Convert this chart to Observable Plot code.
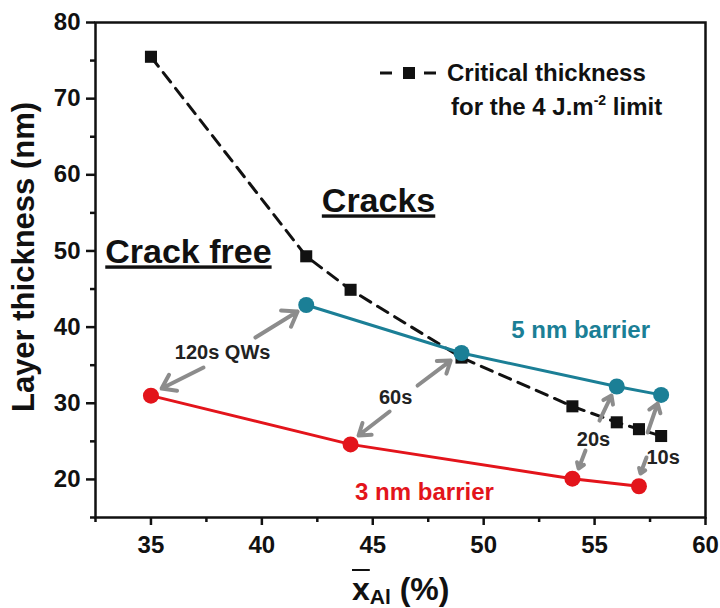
<!DOCTYPE html>
<html><head><meta charset="utf-8">
<script src="https://cdn.jsdelivr.net/npm/d3@7"></script>
<script src="https://cdn.jsdelivr.net/npm/@observablehq/plot@0.6"></script>
<style>
body{margin:0;background:#fff;font-family:"Liberation Sans",Arial,sans-serif;}
#wrap{position:relative;width:720px;height:608px;overflow:hidden;}
#legend{position:absolute;left:378px;top:56px;font-weight:bold;font-size:24px;line-height:34px;color:#111;}
#legend .row{white-space:nowrap;}
#legend sup{font-size:14px;line-height:0;vertical-align:10px;}
#xlabel{position:absolute;left:352px;top:573px;font-weight:bold;font-size:32px;line-height:32px;color:#111;white-space:nowrap;}
#xlabel .ov{text-decoration:overline;text-decoration-thickness:2px;}
#xlabel sub{font-size:21px;line-height:0;vertical-align:-4px;}
</style></head><body><div id="wrap"></div>
<script>
// Critical thickness (4 J.m-2 limit)
const critX = [35, 42, 44, 49, 54, 56, 57, 58];
const critY = [75.5, 49.3, 44.9, 36.0, 29.6, 27.5, 26.6, 25.7];
// 5 nm barrier
const b5X = [42, 49, 56, 58];
const b5Y = [42.9, 36.6, 32.2, 31.1];
// 3 nm barrier
const b3X = [35, 44, 54, 57];
const b3Y = [31.0, 24.6, 20.1, 19.1];
// axis ticks
const xTicks = [35, 40, 45, 50, 55, 60];
const xMinor = [32.5, 37.5, 42.5, 47.5, 52.5, 57.5];
const yTicks = [20, 30, 40, 50, 60, 70, 80];
const yMinor = [15, 25, 35, 45, 55, 65, 75];
// annotation labels
const regionText = ["Crack free", "Cracks"];
const regionX = [36.69, 45.26];
const regionY = [49.8, 56.5];
const timeText = ["120s QWs", "60s", "20s", "10s"];
const timeX = [38.23, 46.03, 54.95, 58.09];
const timeY = [36.72, 30.81, 25.29, 22.93];
// arrows (from label to point)
const arrX1 = [39.71, 37.37, 47.02, 45.76, 55.22, 54.59, 57.39, 57.34];
const arrY1 = [38.63, 34.69, 32.33, 28.92, 27.73, 23.79, 26.16, 22.88];
const arrX2 = [41.61, 35.48, 48.51, 44.36, 55.76, 54.28, 57.84, 57.07];
const arrY2 = [42.05, 31.94, 35.61, 25.77, 31.02, 21.43, 29.97, 20.77];
const seriesText = ["5 nm barrier", "3 nm barrier"];
const seriesX = [54.37, 47.33];
const seriesY = [39.55, 18.28];

const TEAL = "#1b7f96", RED = "#e3141b", GRAY = "#8c8c8c";
const crit = critX.map((x, i) => ({x, y: critY[i]}));
const b5 = b5X.map((x, i) => ({x, y: b5Y[i]}));
const b3 = b3X.map((x, i) => ({x, y: b3Y[i]}));
const regions = regionText.map((t, i) => ({t, x: regionX[i], y: regionY[i]}));
const times = timeText.map((t, i) => ({t, x: timeX[i], y: timeY[i]}));
const arrows = arrX1.map((x1, i) => ({x1, y1: arrY1[i], x2: arrX2[i], y2: arrY2[i]}));
const series = seriesText.map((t, i) => ({t, x: seriesX[i], y: seriesY[i], c: i === 0 ? TEAL : RED}));

const chart = Plot.plot({
  width: 720, height: 608,
  marginLeft: 95, marginRight: 15, marginTop: 22, marginBottom: 91,
  x: {domain: [32.5, 60]},
  y: {domain: [15, 80]},
  style: {fontFamily: "'Liberation Sans', Arial, sans-serif", fontWeight: "bold", fontSize: "24px", color: "#111", background: "white"},
  marks: [
    Plot.axisX(xMinor, {tickSize: 5, strokeWidth: 2.5, tickFormat: () => "", label: null}),
    Plot.axisX(xTicks, {tickSize: 8, strokeWidth: 2.5, tickPadding: 10, fontSize: 24, fontWeight: "bold", label: null}),
    Plot.axisY(yMinor, {tickSize: 5, strokeWidth: 2.5, tickFormat: () => "", label: null}),
    Plot.axisY(yTicks, {tickSize: 9, strokeWidth: 2.5, tickPadding: 6, fontSize: 24, fontWeight: "bold", label: null}),
    Plot.frame({strokeWidth: 2.5, stroke: "#111"}),
    Plot.text(["Layer thickness (nm)"], {frameAnchor: "left", textAnchor: "middle", rotate: -90, dx: -71, dy: -13, fontSize: 31, fontWeight: "bold", fill: "#111"}),
    // critical thickness
    Plot.line(crit, {x: "x", y: "y", stroke: "#111", strokeWidth: 3, strokeDasharray: "12,8"}),
    Plot.dot(crit, {x: "x", y: "y", symbol: "square", r: 6.8, fill: "#111", stroke: "none"}),
    // 5 nm barrier
    Plot.line(b5, {x: "x", y: "y", stroke: TEAL, strokeWidth: 3}),
    Plot.dot(b5, {x: "x", y: "y", r: 8, fill: TEAL, stroke: "none"}),
    // 3 nm barrier
    Plot.line(b3, {x: "x", y: "y", stroke: RED, strokeWidth: 3}),
    Plot.dot(b3, {x: "x", y: "y", r: 8, fill: RED, stroke: "none"}),
    // arrows
    Plot.arrow(arrows, {x1: "x1", y1: "y1", x2: "x2", y2: "y2", stroke: GRAY, strokeWidth: 4, headLength: 12, headAngle: 70}),
    // labels
    Plot.text(times, {x: "x", y: "y", text: "t", fontSize: 20, fontWeight: "bold", fill: "#222"}),
    Plot.text(series, {x: "x", y: "y", text: "t", fontSize: 24, fontWeight: "bold", fill: "c"}),
    Plot.text(regions, {x: "x", y: "y", text: "t", fontSize: 34, fontWeight: "bold", fill: "#111"})
  ]
});

d3.select(chart).selectAll("text").filter(function() {
  return regionText.includes(this.textContent);
}).style("text-decoration", "underline").style("text-decoration-thickness", "3px");

const wrap = document.getElementById("wrap");
wrap.appendChild(chart);

const legend = document.createElement("div");
legend.id = "legend";
legend.innerHTML =
  '<div class="row"><svg width="60" height="20" style="vertical-align:-1px;margin-right:9px">' +
  '<line x1="2" y1="11" x2="14" y2="11" stroke="#111" stroke-width="3"/>' +
  '<rect x="25" y="5" width="12" height="12" fill="#111"/>' +
  '<line x1="46" y1="11" x2="58" y2="11" stroke="#111" stroke-width="3"/></svg>Critical thickness</div>' +
  '<div class="row" style="padding-left:73px">for the 4 J.m<sup>-2</sup> limit</div>';
wrap.appendChild(legend);

const xl = document.createElement("div");
xl.id = "xlabel";
xl.innerHTML = '<span class="ov">x</span><sub>Al</sub> (%)';
wrap.appendChild(xl);
</script>
</body></html>
